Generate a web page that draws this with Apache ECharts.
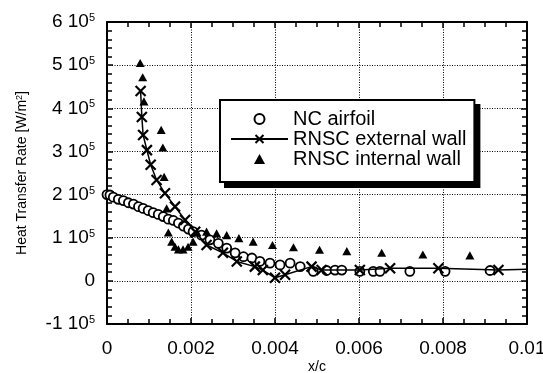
<!DOCTYPE html>
<html>
<head>
<meta charset="utf-8">
<script src="https://cdn.jsdelivr.net/npm/echarts@6/dist/echarts.min.js"></script>
<style>
  html, body { margin: 0; padding: 0; background: #fff; }
  #chart { width: 543px; height: 373px; }
</style>
</head>
<body>
<div id="chart"></div>
<script>
// NC airfoil (open circles)
const ncX = [0, 0.00007, 0.00015, 0.00027, 0.00039, 0.00051, 0.00063, 0.00075, 0.00086, 0.00098,
  0.0011, 0.00122, 0.00134, 0.00146, 0.00158, 0.0017, 0.00182, 0.00194, 0.00205, 0.00225,
  0.00245, 0.00265, 0.00285, 0.00305, 0.00325, 0.00345, 0.00364, 0.00388, 0.00412, 0.00436,
  0.0046, 0.00491, 0.00523, 0.00543, 0.00559, 0.00602, 0.00634, 0.0065, 0.00721, 0.00805, 0.00912]
const ncY = [200000, 199000, 194000, 189000, 186000, 181000, 178000, 172000, 168000, 163000,
  158000, 154000, 149000, 143000, 140000, 134000, 127000, 120000, 114000, 106000,
  95000, 87000, 76000, 65000, 56000, 53000, 45000, 41000, 37000, 41000,
  33000, 22000, 24000, 25000, 25000, 22000, 22000, 22000, 22000, 22000, 24000]

// RNSC external wall (line with crosses)
const extX = [0.0008, 0.00083, 0.00086, 0.00095, 0.00104, 0.00118, 0.00138, 0.00162, 0.00186, 0.0021,
  0.00237, 0.00276, 0.00309, 0.00352, 0.00371, 0.0040, 0.00424, 0.00487, 0.00511, 0.00602,
  0.00674, 0.00789, 0.00932, 0.01]
const extY = [440000, 380000, 338000, 303000, 269000, 234000, 203000, 172000, 141000, 114000,
  83000, 65000, 45000, 33000, 25000, 7000, 14000, 33000, 25000, 25000,
  29000, 29000, 25000, 27000]

// RNSC internal wall (filled triangles)
const intX = [0.00079, 0.00085, 0.00088, 0.00129, 0.00133, 0.00136, 0.00142, 0.00146, 0.00154, 0.00162,
  0.0017, 0.00181, 0.00193, 0.00205, 0.00214, 0.00237, 0.00261, 0.00285, 0.00314, 0.00348,
  0.00394, 0.00444, 0.00506, 0.00571, 0.00654, 0.00752, 0.00864]
const intY = [505000, 472000, 416000, 350000, 309000, 241000, 168000, 112000, 91000, 79000,
  73000, 73000, 79000, 91000, 113000, 114000, 110000, 106000, 99000, 91000,
  83000, 78000, 72000, 69000, 65000, 61000, 59000]

const seriesNames = ['NC airfoil', 'RNSC external wall', 'RNSC internal wall']

const zip = (xs, ys) => xs.map((x, i) => [x, ys[i]])

const font = 'Liberation Sans, Arial, Helvetica, sans-serif'
const crossPath = 'path://M0,0L10,10M10,0L0,10'
// path symbols keep their aspect in the legend, the built-in triangle does not
const trianglePath = 'path://M5,0L10,9L0,9Z'

const extData = zip(extX, extY).map((p, i) =>
  i === extX.length - 1 ? { value: p, symbol: 'none' } : p)

const xLabel = v => (v === 0 ? '0' : String(+v.toFixed(3)))
const yLabel = v => (v === 0 ? '0' : `{b|${v / 1e5} 10}{s|5}`)

const frame = { show: true, onZero: false, lineStyle: { color: '#000', width: 2 } }
const majorTick = { show: true, inside: true, length: 6, lineStyle: { color: '#000', width: 1.5 } }
const minorTick = n => ({ show: true, splitNumber: n, length: 5, lineStyle: { color: '#000', width: 1.5 } })

// the legend box; a second, all-black copy offset behind it gives the drop shadow
const legendBase = {
  data: seriesNames,
  orient: 'vertical',
  padding: [9, 8, 13, 10],
  itemWidth: 57,
  itemHeight: 10,
  itemGap: 0,
  selectedMode: false,
  symbolKeepAspect: true,
  borderColor: '#000',
  borderWidth: 2,
  borderRadius: 0,
  textStyle: { fontFamily: font, fontSize: 20, color: '#000', lineHeight: 17.5 },
}

const chart = echarts.init(document.getElementById('chart'))
chart.setOption({
  animation: false,
  backgroundColor: '#fff',
  textStyle: { fontFamily: font },
  grid: { left: 107, right: 16, top: 22, bottom: 49, containLabel: false, outerBoundsMode: 'none' },
  legend: [
    { ...legendBase, left: 225, top: 105, z: 3, backgroundColor: '#000' },
    { ...legendBase, left: 220, top: 100, z: 4, backgroundColor: '#fff' },
  ],
  xAxis: [
    {
      type: 'value',
      min: 0,
      max: 0.01,
      interval: 0.002,
      name: 'x/c',
      nameLocation: 'middle',
      nameGap: 36,
      nameMoveOverlap: false,
      nameTextStyle: { fontFamily: font, fontSize: 14, color: '#000' },
      axisLine: frame,
      axisTick: majorTick,
      minorTick: minorTick(4),
      axisLabel: { formatter: xLabel, fontSize: 19, color: '#000', margin: 15 },
      splitLine: { show: true, lineStyle: { color: '#000', type: [1, 1.5], width: 1 } },
    },
    {
      type: 'value',
      position: 'top',
      min: 0,
      max: 0.01,
      interval: 0.002,
      axisLine: frame,
      axisTick: majorTick,
      minorTick: minorTick(4),
      axisLabel: { show: false },
      splitLine: { show: false },
    },
  ],
  yAxis: [
    {
      type: 'value',
      min: -100000,
      max: 600000,
      interval: 100000,
      name: 'Heat Transfer Rate [W/m{s|2}]',
      nameLocation: 'middle',
      nameGap: 78,
      nameMoveOverlap: false,
      nameTextStyle: {
        fontFamily: font,
        fontSize: 14,
        color: '#000',
        rich: { s: { fontSize: 9, verticalAlign: 'top', fontFamily: font, color: '#000' } },
      },
      axisLine: frame,
      axisTick: majorTick,
      minorTick: minorTick(5),
      axisLabel: {
        formatter: yLabel,
        fontSize: 19,
        color: '#000',
        margin: 12,
        rich: {
          b: { fontSize: 19, fontFamily: font, color: '#000' },
          s: { fontSize: 11, fontFamily: font, color: '#000', verticalAlign: 'top' },
        },
      },
      splitLine: { show: true, lineStyle: { color: '#000', type: [1, 1.5], width: 1 } },
    },
    {
      type: 'value',
      position: 'right',
      min: -100000,
      max: 600000,
      interval: 100000,
      axisLine: frame,
      axisTick: majorTick,
      minorTick: minorTick(5),
      axisLabel: { show: false },
      splitLine: { show: false },
    },
  ],
  series: [
    {
      name: seriesNames[0],
      type: 'scatter',
      data: zip(ncX, ncY),
      symbol: 'circle',
      symbolSize: 9,
      itemStyle: { color: '#fff', borderColor: '#000', borderWidth: 1.8, opacity: 1 },
    },
    {
      name: seriesNames[1],
      type: 'line',
      data: extData,
      symbol: crossPath,
      symbolSize: 10,
      showAllSymbol: true,
      lineStyle: { color: '#000', width: 1.5 },
      itemStyle: { color: 'rgba(0,0,0,0)', borderColor: '#000', borderWidth: 2.2 },
    },
    {
      name: seriesNames[2],
      type: 'scatter',
      data: zip(intX, intY),
      symbol: trianglePath,
      symbolSize: 9,
      symbolKeepAspect: true,
      itemStyle: { color: '#000', opacity: 1 },
    },
  ],
})
</script>
</body>
</html>
